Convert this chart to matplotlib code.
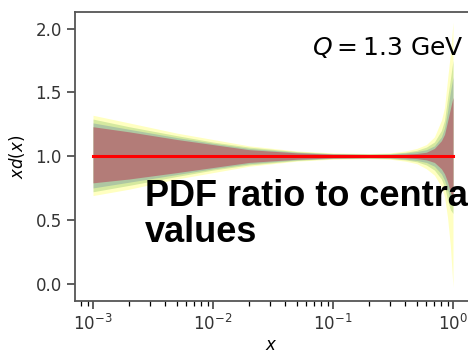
import numpy as np
import matplotlib
matplotlib.use("Agg")
import matplotlib.pyplot as plt

# valores de x donde se leen las bandas
x = [1e-3, 2e-3, 5e-3, 1e-2, 2e-2, 5e-2, 0.1, 0.2, 0.3, 0.4, 0.5, 0.6, 0.7, 0.8, 0.85, 0.9, 0.95, 1.0]

# banda amarilla (la mas ancha)
amarillo_sup = [1.32, 1.26, 1.18, 1.13, 1.08, 1.04, 1.025, 1.02, 1.025, 1.04, 1.06, 1.09, 1.15, 1.28, 1.38, 1.60, 1.80, 2.05]
amarillo_inf = [0.69, 0.74, 0.82, 0.87, 0.92, 0.96, 0.975, 0.98, 0.975, 0.96, 0.94, 0.90, 0.85, 0.76, 0.68, 0.52, 0.30, -0.03]

# banda verde
verde_sup = [1.29, 1.23, 1.16, 1.11, 1.07, 1.035, 1.02, 1.017, 1.02, 1.03, 1.045, 1.07, 1.11, 1.20, 1.28, 1.45, 1.60, 1.75]
verde_inf = [0.72, 0.77, 0.84, 0.89, 0.93, 0.965, 0.98, 0.983, 0.98, 0.97, 0.955, 0.93, 0.89, 0.82, 0.76, 0.66, 0.58, 0.55]

# banda azul
azul_sup = [1.26, 1.21, 1.145, 1.10, 1.06, 1.03, 1.018, 1.015, 1.017, 1.025, 1.035, 1.05, 1.08, 1.15, 1.22, 1.35, 1.50, 1.62]
azul_inf = [0.75, 0.795, 0.855, 0.90, 0.94, 0.97, 0.982, 0.985, 0.983, 0.975, 0.965, 0.95, 0.92, 0.86, 0.81, 0.74, 0.66, 0.61]

# banda central (rojiza)
rojo_sup = [1.23, 1.19, 1.13, 1.09, 1.05, 1.025, 1.015, 1.012, 1.012, 1.015, 1.02, 1.03, 1.06, 1.12, 1.17, 1.27, 1.37, 1.46]
rojo_inf = [0.79, 0.82, 0.87, 0.91, 0.95, 0.975, 0.985, 0.988, 0.988, 0.985, 0.98, 0.97, 0.95, 0.90, 0.86, 0.80, 0.72, 0.65]

central = [1.0] * len(x)

fig = plt.figure(figsize=(4.68, 3.5), dpi=100)
ax = fig.add_axes([75 / 468, 1 - 301 / 350, 410 / 468, 289 / 350])

ax.fill_between(x, amarillo_inf, amarillo_sup, color='#ffff66', alpha=0.4, lw=0)
ax.fill_between(x, verde_inf, verde_sup, color='#88c060', alpha=0.35, lw=0)
ax.fill_between(x, azul_inf, azul_sup, color='#6688aa', alpha=0.35, lw=0)
ax.fill_between(x, rojo_inf, rojo_sup, color='#b47474', alpha=0.9, lw=0)
ax.plot(x, central, color='red', lw=2.2)

ax.set_xscale('log')
# el eje sigue mas alla del borde derecho de la imagen
ax.set_xlim(10 ** -3.15, 10 ** (-3.15 + 410 / 120))
ax.set_ylim(-0.137, 2.13)
ax.set_yticks([0.0, 0.5, 1.0, 1.5, 2.0])
ax.tick_params(labelsize=12, colors='#333333', length=6, width=1.1)
ax.tick_params(which='minor', length=3.5, width=0.9)
for s in ax.spines.values():
    s.set_color('#555555')
    s.set_linewidth(1.3)
ax.set_xlabel('$x$', fontsize=12)
ax.xaxis.set_label_coords((271 - 75) / 410, -0.12)
ax.set_ylabel('$xd(x)$', fontsize=12, labelpad=6)

fig.text(312 / 468, 1 - 47 / 350, '$Q = 1.3$ GeV', fontsize=18, va='center', ha='left')

fig.text(145 / 468, 1 - 179 / 350, 'PDF ratio to central\nvalues', fontsize=26,
         fontweight='bold', family='Liberation Sans', va='top', ha='left', linespacing=1.05)

fig.savefig('out.png', dpi=100)
